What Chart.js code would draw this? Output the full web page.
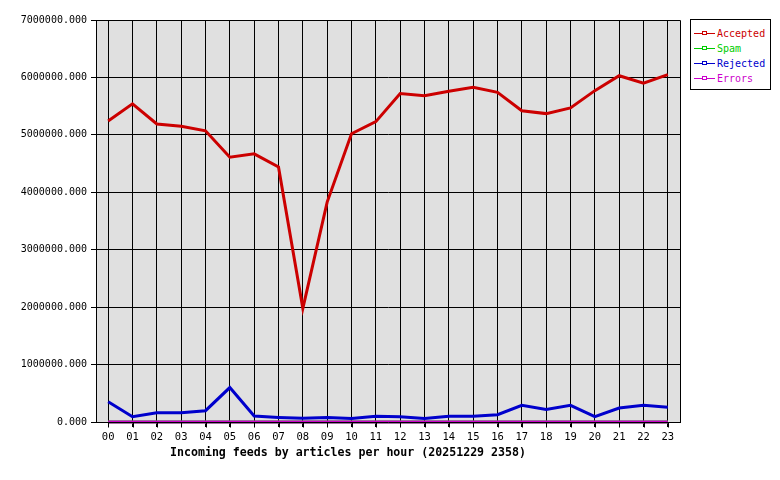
<!DOCTYPE html>
<html>
<head>
<meta charset="utf-8">
<script src="https://cdn.jsdelivr.net/npm/chart.js@4/dist/chart.umd.min.js"></script>
<style>
  html, body { margin: 0; padding: 0; background: #fff; }
  #wrap { position: relative; width: 780px; height: 480px; }
  #c { position: absolute; left: 0; top: 0; }
  #title { position: absolute; left: 170px; top: 444px; font: bold 11.6px "DejaVu Sans Mono", monospace; color: #000; white-space: nowrap; line-height: 16px; }
  #legend { position: absolute; left: 690px; top: 19px; width: 79px; height: 69px; border: 1px solid #000; background: #fff; }
  .row { position: absolute; left: 0; height: 15px; width: 80px; }
  .ln { position: absolute; left: 3px; top: 6px; width: 21px; height: 1px; }
  .mk { position: absolute; left: 11px; top: 4px; width: 3px; height: 2px; border: 1px solid; background: #fff; box-sizing: content-box; }
  .tx { position: absolute; left: 26px; top: 0; font: 10px "DejaVu Sans Mono", monospace; line-height: 13px; white-space: nowrap; }
</style>
</head>
<body>
<div id="wrap">
  <canvas id="c" width="780" height="480"></canvas>
  <div id="title"></div>
  <div id="legend"></div>
</div>
<script>
const hours = ["00","01","02","03","04","05","06","07","08","09","10","11","12","13","14","15","16","17","18","19","20","21","22","23"];
const accepted = [5240000,5540000,5190000,5150000,5070000,4610000,4670000,4440000,1980000,3830000,5020000,5230000,5720000,5680000,5760000,5830000,5740000,5420000,5370000,5470000,5770000,6030000,5900000,6050000];
const spam = [0,0,0,0,0,0,0,0,0,0,0,0,0,0,0,0,0,0,0,0,0,0,0,0];
const rejected = [354000,92000,162000,162000,197000,600000,104000,80000,64000,80000,60000,100000,92000,60000,100000,100000,127000,290000,220000,290000,92000,244000,290000,256000];
const errors = [0,0,0,0,0,0,0,0,0,0,0,0,0,0,0,0,0,0,0,0,0,0,0,0];
const yTicks = [0,1000000,2000000,3000000,4000000,5000000,6000000,7000000];
const titleText = "Incoming feeds by articles per hour (20251229 2358)";
const seriesNames = ["Accepted","Spam","Rejected","Errors"];
const seriesColors = ["#cc0000","#00cc00","#0000cc","#cc00cc"];

document.getElementById('title').textContent = titleText;
const leg = document.getElementById('legend');
seriesNames.forEach((n, i) => {
  const r = document.createElement('div');
  r.className = 'row';
  r.style.top = (7 + i * 15) + 'px';
  r.innerHTML = '<div class="ln" style="background:' + seriesColors[i] + '"></div>' +
    '<div class="mk" style="border-color:' + seriesColors[i] + '"></div>' +
    '<div class="tx" style="color:' + seriesColors[i] + '"></div>';
  r.querySelector('.tx').textContent = n;
  leg.appendChild(r);
});

const plotFrame = {
  id: 'plotFrame',
  beforeDraw(chart) {
    const a = chart.chartArea, ctx = chart.ctx;
    ctx.save();
    ctx.fillStyle = '#e0e0e0';
    ctx.fillRect(a.left, a.top, a.right - a.left, a.bottom - a.top);
    ctx.restore();
  },
  afterDatasetsDraw(chart) {
    const a = chart.chartArea, ctx = chart.ctx, xs = chart.scales.x;
    const L = Math.round(a.left) + 0.5, R = Math.round(a.right) + 0.5;
    const T = Math.round(a.top) + 0.5, B = Math.round(a.bottom) + 0.5;
    ctx.save();
    ctx.strokeStyle = '#000';
    ctx.lineWidth = 1;
    ctx.beginPath();
    ctx.moveTo(L, T); ctx.lineTo(R, T); ctx.lineTo(R, B); ctx.lineTo(L, B);
    // x tick marks below the plot
    for (let i = 0; i < xs.ticks.length; i++) {
      const px = Math.round(xs.getPixelForTick(i)) + 0.5;
      ctx.moveTo(px, B); ctx.lineTo(px, B + 5);
    }
    ctx.stroke();
    ctx.restore();
  }
};

const allData = [accepted, spam, rejected, errors];
const order = [2, 3, 1, 0];
new Chart(document.getElementById('c'), {
  type: 'line',
  data: {
    labels: hours,
    datasets: seriesNames.map((n, i) => ({
      label: n,
      data: allData[i],
      borderColor: seriesColors[i],
      backgroundColor: seriesColors[i],
      borderWidth: 3,
      pointRadius: 0,
      tension: 0,
      fill: false,
      clip: false,
      order: order[i]
    }))
  },
  options: {
    responsive: false,
    animation: false,
    layout: { padding: { top: 20, right: 100, left: 0, bottom: 0 } },
    plugins: { legend: { display: false }, title: { display: false }, tooltip: { enabled: false } },
    scales: {
      x: {
        type: 'category',
        offset: true,
        grid: { color: '#000', lineWidth: 1, tickLength: 5, offset: false, drawOnChartArea: true },
        border: { display: true, color: '#000' },
        ticks: { color: '#000', padding: 4, font: { family: 'DejaVu Sans Mono', size: 10.5 }, maxRotation: 0, autoSkip: false },
        afterFit(s) { s.height = 58; }
      },
      y: {
        min: 0, max: 7000000,
        afterBuildTicks(s) { s.ticks = yTicks.map(v => ({ value: v })); },
        grid: { color: '#000', lineWidth: 1, tickLength: 5 },
        border: { display: true, color: '#000' },
        ticks: { color: '#000', padding: 4, font: { family: 'DejaVu Sans Mono', size: 10 }, callback: v => Number(v).toFixed(3) },
        afterFit(s) { s.width = 96; }
      }
    }
  },
  plugins: [plotFrame]
});
</script>
</body>
</html>
